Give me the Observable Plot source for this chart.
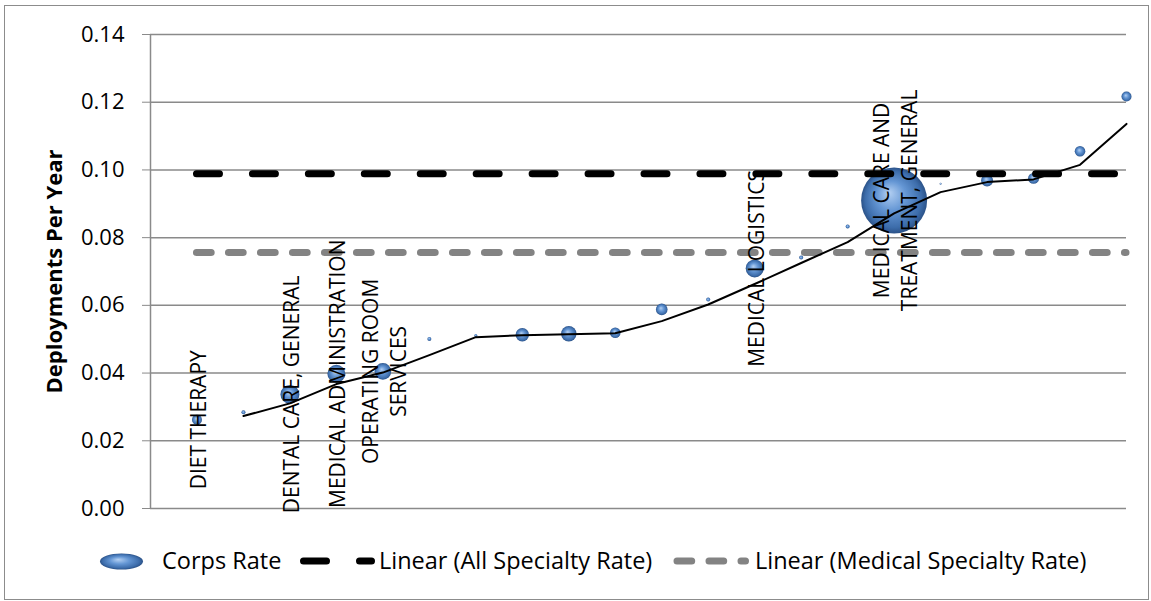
<!DOCTYPE html>
<html><head><meta charset="utf-8">
<script src="https://cdn.jsdelivr.net/npm/d3@7"></script>
<script src="https://cdn.jsdelivr.net/npm/@observablehq/plot@0.6"></script>
<style>
html,body{margin:0;padding:0;background:#fff;}
#wrap{position:relative;width:1151px;height:601px;overflow:hidden;font-family:"Open Sans",sans-serif;}
#border{position:absolute;left:4px;top:5px;width:1145px;height:595px;border:1px solid #8c8c8c;box-sizing:border-box;}
#chart{position:absolute;left:0;top:0;}
#legend{position:absolute;left:0;top:0;}
</style></head><body>
<div id="wrap"><div id="border"></div><div id="chart"></div>
<svg id="legend" width="1151" height="601" xmlns="http://www.w3.org/2000/svg"></svg></div>
<script>
// ---- data ----
const rank = [1,2,3,4,5,6,7,8,9,10,11,12,13,14,15,16,17,18,19,20,21];
const corpsRate = [0.0262,0.0284,0.0337,0.0398,0.0405,0.0501,0.0511,0.0513,0.0516,0.0519,0.0588,0.0617,0.0709,0.0741,0.0833,0.0910,0.0959,0.0969,0.0975,0.1055,0.1217];
const corpsSize = [25,4,90,81,69,4,2.25,45,59,28,34,4,81,4,4,1089,1,36,30,28,25];
const specialty = ["DIET THERAPY","","DENTAL CARE, GENERAL","MEDICAL ADMINISTRATION","OPERATING ROOM\nSERVICES","","","","","","","","MEDICAL LOGISTICS","","","MEDICAL CARE AND\nTREATMENT, GENERAL","","","","",""];
const allSpecialtyRate = 0.0989;
const medicalSpecialtyRate = 0.0756;
const yTicks = [0,0.02,0.04,0.06,0.08,0.10,0.12,0.14];
const yTitle = "Deployments Per Year";
const legendLabels = ["Corps Rate","Linear (All Specialty Rate)","Linear (Medical Specialty Rate)"];

const data = rank.map((r,i)=>({rank:r, rate:corpsRate[i], size:corpsSize[i], label:specialty[i]}));
const xExtent = d3.extent(rank);
const FONT = '"Open Sans", sans-serif';

const chart = Plot.plot({
  width:1151, height:530,
  marginLeft:150, marginRight:25, marginTop:34, marginBottom:22,
  style:{fontFamily:FONT, fontSize:"22px", color:"#000", background:"transparent"},
  x:{domain:[0,21], axis:null},
  y:{domain:[0,0.14]},
  r:{type:"sqrt", domain:[0,1089], range:[0,33]},
  marks:[
    Plot.gridY(yTicks, {stroke:"#8a8a8a", strokeOpacity:1, strokeWidth:1.5}),
    Plot.ruleX([0], {stroke:"#8a8a8a", strokeWidth:1.5}),
    Plot.axisY(yTicks, {tickFormat:d3.format(".2f"), tickSize:8, tickPadding:18, stroke:"#8a8a8a", fill:"#000", fontSize:22, label:null}),
    Plot.text([yTitle], {frameAnchor:"left", textAnchor:"middle", dx:-96, rotate:-90, fontWeight:"bold", fontSize:22, fill:"#000"}),
    Plot.dot(data, {x:"rank", y:"rate", r:"size", fill:"url(#bubbleGrad)", stroke:null}),
    Plot.ruleY([allSpecialtyRate], {x1:xExtent[0], x2:xExtent[1], stroke:"#000", strokeWidth:7, strokeDasharray:"23 32.94", strokeLinecap:"round"}),
    Plot.ruleY([medicalSpecialtyRate], {x1:xExtent[0], x2:xExtent[1], stroke:"#838383", strokeWidth:7, strokeDasharray:"14.7 17.3", strokeLinecap:"round"}),
    Plot.lineY(data, Plot.windowY({k:2, anchor:"end", strict:true}, {x:"rank", y:"rate", stroke:"#000", strokeWidth:2})),
    Plot.text(data.filter(d=>d.label), {x:"rank", y:"rate", text:"label", rotate:-90, fontSize:21, lineHeight:1.35, fill:"#000"})
  ]
});

function addGrad(svgSel, id){
  const g = svgSel.insert("defs", ":first-child").append("radialGradient")
    .attr("id", id).attr("cx","50%").attr("cy","50%").attr("r","50%").attr("fx","42%").attr("fy","38%");
  [[0,"#b4d0f2"],[0.45,"#6496d4"],[0.85,"#3d6dab"],[1,"#2b5288"]].forEach(([o,c])=>
    g.append("stop").attr("offset", o).attr("stop-color", c));
}
addGrad(d3.select(chart), "bubbleGrad");
document.getElementById("chart").appendChild(chart);

// ---- legend ----
const lg = d3.select("#legend");
addGrad(lg, "legendGrad");
lg.append("ellipse").attr("cx",121.5).attr("cy",561.5).attr("rx",21.5).attr("ry",8).attr("fill","url(#legendGrad)");
lg.append("line").attr("x1",303.5).attr("x2",371.5).attr("y1",561).attr("y2",561)
  .attr("stroke","#000").attr("stroke-width",7).attr("stroke-linecap","round").attr("stroke-dasharray","23 33");
lg.append("line").attr("x1",677).attr("x2",745.5).attr("y1",561).attr("y2",561)
  .attr("stroke","#838383").attr("stroke-width",7).attr("stroke-linecap","round").attr("stroke-dasharray","14.7 17.3");
const lx = [162, 379, 755];
legendLabels.forEach((t,i)=>{
  lg.append("text").attr("x",lx[i]).attr("y",569).attr("font-family",FONT).attr("font-size",23.5).attr("fill","#000").text(t);
});
</script>
</body></html>
